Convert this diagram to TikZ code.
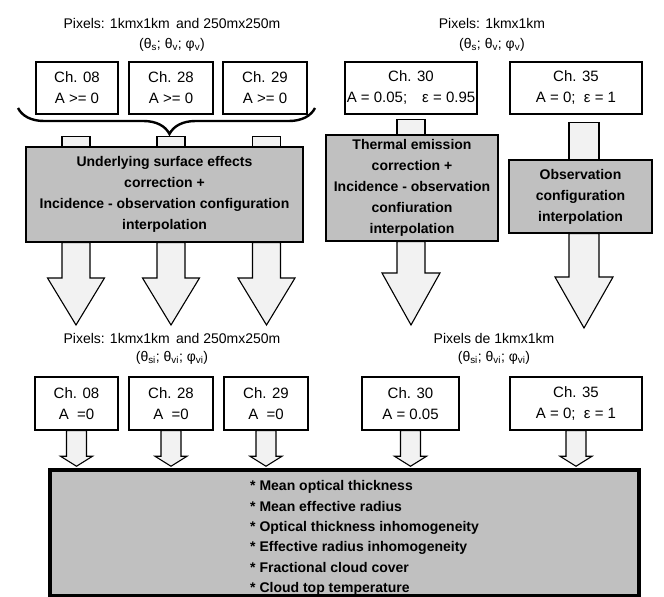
\documentclass[tikz,border=0pt]{standalone}
\usepackage{fontspec}
\setmainfont{Liberation Sans}
\usepackage{xcolor}
\usetikzlibrary{calc,decorations.pathreplacing}
\definecolor{boxgray}{RGB}{192,192,192}
\definecolor{arrowfill}{RGB}{242,242,242}
% block arrow: start, tip, half shaft, half head, head length
\newcommand{\fatarrow}[5]{%
  \draw[fatarr] let \p1=(#1), \p2=(#2) in
    (\x1-#3,\y1) -- (\x1+#3,\y1) -- (\x1+#3,\y2+#5) -- (\x1+#4,\y2+#5)
    -- (\x1,\y2) -- (\x1-#4,\y2+#5) -- (\x1-#3,\y2+#5) -- cycle;}
\begin{document}
\begin{tikzpicture}[x=1pt, y=-1pt,
    chan/.style={rectangle, draw=black, line width=1.1pt, fill=white, align=center, inner sep=0pt,
      minimum height=52pt, font=\fontsize{15}{21}\selectfont},
    proc/.style={rectangle, draw=black, line width=1.1pt, fill=boxgray, align=center, inner sep=0pt,
      font=\fontsize{14}{21}\selectfont\bfseries},
    pixlab/.style={font=\fontsize{14}{17}\selectfont},
    fatarr/.style={draw=black, line width=1.1pt, fill=arrowfill}
]
\useasboundingbox (0,0) rectangle (664,597);

% Input channels
\node[pixlab] (labL1) at (172,23) {Pixels: 1kmx1km\, and 250mx250m};
\node[pixlab] (labL2) at (172,45) {(θ\textsubscript{s}; θ\textsubscript{v}; φ\textsubscript{v})};
\node[pixlab] (labR1) at (492,23) {Pixels: 1kmx1km};
\node[pixlab] (labR2) at (492,45) {(θ\textsubscript{s}; θ\textsubscript{v}; φ\textsubscript{v})};

\node[chan, minimum width=82pt] (ch08a) at (77,88) {Ch. 08\\A >= 0};
\node[chan, minimum width=84pt] (ch28a) at (171,88) {Ch. 28\\A >= 0};
\node[chan, minimum width=84pt] (ch29a) at (265,88) {Ch. 29\\A >= 0};
\node[chan, minimum width=132pt] (ch30a) at (411,88) {Ch. 30\\A = 0.05;\quad ε = 0.95};
\node[chan, minimum width=132pt] (ch35a) at (576,88) {Ch. 35\\A = 0;\; ε = 1};

% Brace
\draw[line width=2.4pt, decorate, decoration={brace, mirror, amplitude=26pt, aspect=0.51}]
  (18,108) -- (315,108);

% Corrections
\node[proc, minimum width=277pt, minimum height=95pt] (surf) at (164.5,194.5)
  {Underlying surface effects\\correction +\\Incidence - observation configuration\\interpolation};
\node[proc, minimum width=172pt, minimum height=106pt] (therm) at (412,188)
  {Thermal emission\\correction +\\Incidence - observation\\confiuration\\interpolation};
\node[proc, minimum width=143pt, minimum height=73pt] (obs) at (580.5,196.5)
  {Observation\\configuration\\interpolation};

% Tips of the big arrows
\coordinate (tipL1) at (76,325);
\coordinate (tipL2) at (171,325);
\coordinate (tipL3) at (266.5,325);
\coordinate (tipT) at (411,325);
\coordinate (tipO) at (584,328);

% Stubs into the correction boxes
\foreach \t in {tipL1,tipL2,tipL3}
  \draw[fatarr] ($(surf.north -| \t)+(-14,-10)$) rectangle ($(surf.north -| \t)+(14,0)$);
\draw[fatarr] ($(therm.north -| tipT)+(-14,-15)$) rectangle ($(therm.north -| tipT)+(14,0)$);
\draw[fatarr] ($(obs.north -| tipO)+(-15,-37)$) rectangle ($(obs.north -| tipO)+(15,0)$);

% Big arrows
\foreach \t in {tipL1,tipL2,tipL3}
  \fatarrow{surf.south -| \t}{\t}{14pt}{28.5pt}{47pt};
\fatarrow{therm.south -| tipT}{tipT}{14pt}{29pt}{52pt}
\fatarrow{obs.south -| tipO}{tipO}{15pt}{29pt}{51pt}

% Corrected channels
\node[pixlab] (labL3) at (172,338) {Pixels: 1kmx1km\, and 250mx250m};
\node[pixlab] (labL4) at (172,358) {(θ\textsubscript{si}; θ\textsubscript{vi}; φ\textsubscript{vi})};
\node[pixlab] (labR3) at (494,338) {Pixels de 1kmx1km};
\node[pixlab] (labR4) at (494,358) {(θ\textsubscript{si}; θ\textsubscript{vi}; φ\textsubscript{vi})};

\node[chan, minimum width=83pt, minimum height=53pt] (ch08b) at (76.5,403.5) {Ch. 08\\A\; =0};
\node[chan, minimum width=84pt, minimum height=53pt] (ch28b) at (171,403.5) {Ch. 28\\A\; =0};
\node[chan, minimum width=84pt, minimum height=53pt] (ch29b) at (266,403.5) {Ch. 29\\A\; =0};
\node[chan, minimum width=97pt, minimum height=53pt] (ch30b) at (410.5,403.5) {Ch. 30\\A = 0.05};
\node[chan, minimum width=132pt, minimum height=53pt] (ch35b) at (576,403.5) {Ch. 35\\A = 0;\; ε = 1};

% Output parameters
\node[rectangle, draw=black, line width=3.5pt, fill=boxgray, minimum width=589pt, minimum height=126pt,
  inner sep=0pt] (final) at (344.5,533) {};
\node[anchor=west, align=left, inner sep=0pt, font=\fontsize{14}{20.4}\selectfont\bfseries] (params) at (250,538)
  {* Mean optical thickness\\* Mean effective radius\\* Optical thickness inhomogeneity\\
   * Effective radius inhomogeneity\\* Fractional cloud cover\\* Cloud top temperature};

% Small arrows
\foreach \c in {ch08b,ch28b,ch29b,ch30b,ch35b}
  \fatarrow{\c.south}{$(\c.south |- final.north)+(0,-2)$}{10pt}{16pt}{10pt};

\end{tikzpicture}
\end{document}
